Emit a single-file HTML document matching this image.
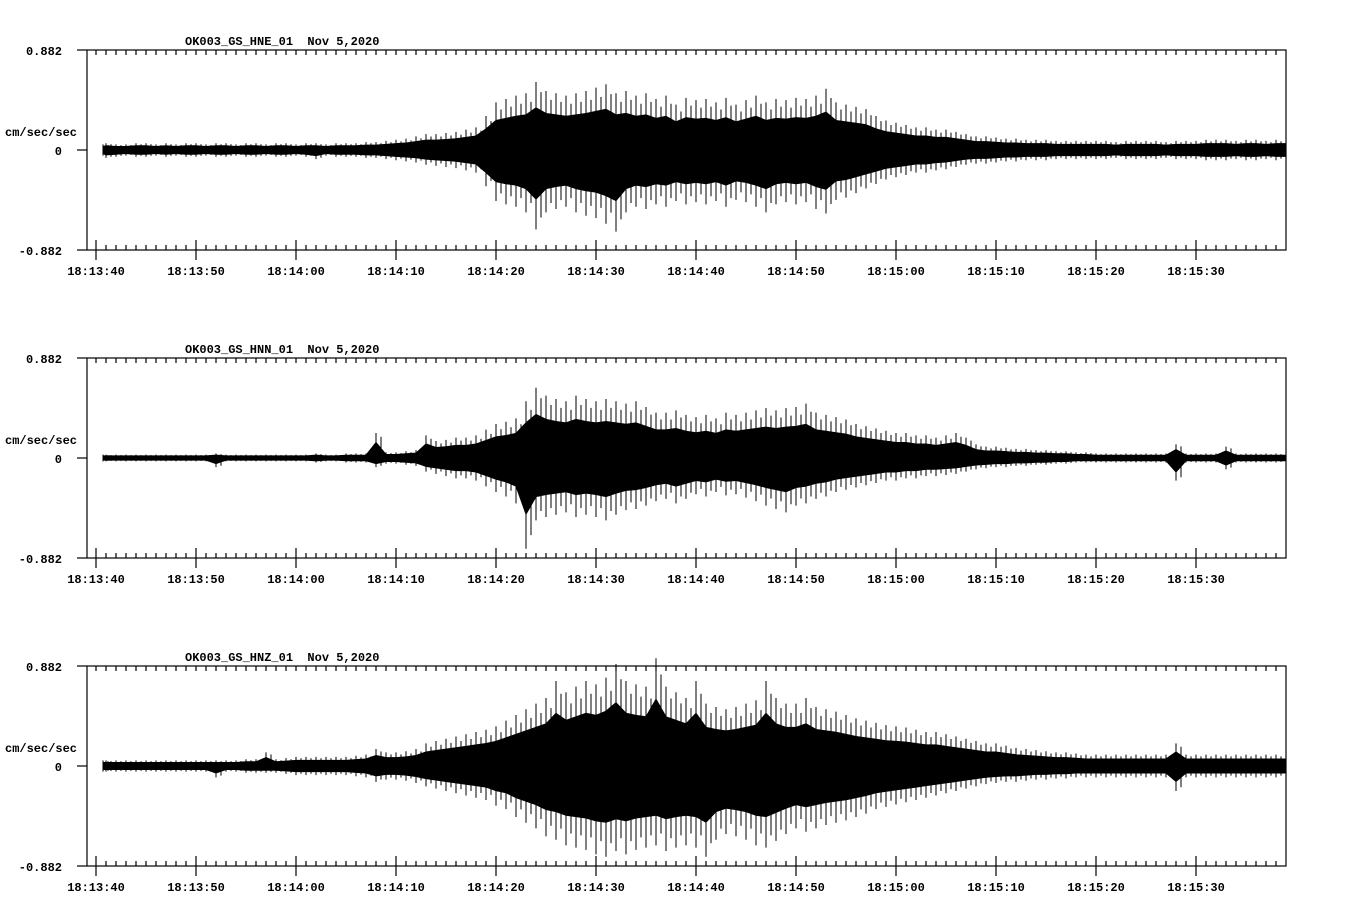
<!DOCTYPE html>
<html><head><meta charset="utf-8"><style>
html,body{margin:0;padding:0;background:#fff}
svg{display:block}
text{font-family:"Liberation Mono",monospace;font-weight:bold;font-size:12px;fill:#000;white-space:pre}
</style></head><body>
<svg id="chart" width="1358" height="924" viewBox="0 0 1358 924" xmlns="http://www.w3.org/2000/svg"></svg>
<script>
// time in seconds after 18:13:40, one value per second (t = 0..119); peak amplitude in cm/sec/sec
const timeLabels = ["18:13:40","18:13:50","18:14:00","18:14:10","18:14:20","18:14:30","18:14:40","18:14:50","18:15:00","18:15:10","18:15:20","18:15:30"];
const yMax = 0.882;
const titles = ["OK003_GS_HNE_01  Nov 5,2020","OK003_GS_HNN_01  Nov 5,2020","OK003_GS_HNZ_01  Nov 5,2020"];
const hneUp = [.05,.06,.05,.05,.06,.06,.05,.06,.05,.06, .06,.05,.06,.06,.05,.06,.06,.05,.06,.06, .05,.06,.06,.05,.06,.06,.06,.07,.07,.08, .09,.10,.12,.14,.14,.15,.16,.18,.20,.30, .42,.45,.48,.50,.60,.52,.50,.48,.50,.52, .55,.58,.50,.52,.48,.50,.45,.48,.40,.46, .44,.45,.42,.46,.40,.44,.48,.42,.45,.44, .46,.45,.48,.54,.42,.40,.38,.36,.30,.26, .24,.22,.20,.20,.18,.18,.16,.14,.12,.12, .11,.10,.10,.09,.09,.09,.08,.08,.08,.08, .08,.08,.07,.08,.08,.08,.08,.07,.08,.08, .08,.09,.09,.09,.08,.09,.09,.08,.09,.09];
const hneDown = [.05,.07,.06,.05,.06,.06,.05,.06,.05,.06, .06,.05,.06,.06,.05,.06,.06,.05,.06,.06, .05,.06,.08,.05,.06,.06,.06,.07,.07,.08, .09,.10,.11,.13,.14,.15,.16,.18,.20,.32, .45,.48,.50,.55,.70,.55,.52,.50,.55,.58, .60,.65,.72,.55,.50,.52,.48,.50,.45,.48, .46,.48,.45,.50,.44,.46,.50,.55,.48,.46, .48,.46,.52,.56,.44,.42,.38,.34,.30,.26, .24,.22,.20,.20,.18,.17,.15,.13,.12,.12, .11,.10,.10,.09,.09,.09,.08,.08,.08,.08, .08,.08,.07,.08,.08,.08,.08,.07,.08,.08, .08,.09,.09,.09,.08,.09,.09,.08,.09,.09];
const hnnUp = [.03,.03,.03,.03,.03,.03,.03,.03,.03,.03, .03,.03,.04,.03,.03,.03,.03,.03,.03,.03, .03,.03,.04,.03,.03,.04,.04,.04,.22,.05, .05,.06,.07,.20,.15,.16,.18,.18,.20,.25, .30,.32,.35,.50,.62,.55,.52,.50,.55,.52, .50,.52,.50,.48,.50,.45,.40,.40,.42,.38, .36,.38,.35,.40,.38,.40,.42,.44,.42,.44, .45,.48,.40,.38,.36,.34,.30,.28,.26,.24, .22,.22,.20,.20,.18,.20,.22,.18,.12,.10, .10,.09,.08,.08,.07,.07,.06,.06,.05,.05, .04,.04,.04,.04,.04,.04,.04,.04,.12,.04, .04,.04,.04,.10,.04,.04,.04,.04,.04,.04];
const hnnDown = [.03,.03,.03,.03,.03,.03,.03,.03,.03,.03, .03,.03,.08,.03,.03,.03,.03,.03,.03,.03, .03,.03,.04,.03,.03,.04,.04,.04,.08,.05, .05,.06,.07,.12,.14,.16,.18,.18,.20,.25, .30,.34,.40,.80,.55,.52,.50,.48,.52,.50, .52,.55,.50,.46,.45,.42,.38,.36,.40,.36, .32,.34,.30,.33,.32,.35,.38,.42,.45,.48, .42,.40,.36,.34,.30,.28,.26,.24,.22,.20, .20,.18,.18,.16,.16,.15,.14,.12,.10,.09, .08,.08,.07,.07,.06,.06,.05,.05,.04,.04, .04,.04,.04,.04,.04,.04,.04,.04,.20,.04, .04,.04,.04,.10,.04,.04,.04,.04,.04,.04];
const hnzUp = [.05,.05,.05,.05,.05,.05,.05,.05,.05,.05, .05,.05,.05,.05,.05,.06,.06,.12,.06,.07, .08,.08,.08,.08,.08,.08,.09,.10,.15,.12, .12,.13,.15,.20,.22,.24,.26,.28,.30,.32, .35,.40,.45,.50,.55,.60,.75,.65,.70,.75, .72,.78,.90,.75,.72,.70,.95,.70,.65,.60, .75,.55,.52,.50,.52,.55,.58,.75,.60,.55, .55,.60,.52,.50,.48,.45,.42,.40,.38,.36, .35,.34,.32,.30,.30,.28,.26,.24,.22,.20, .20,.18,.16,.15,.14,.13,.12,.12,.11,.10, .10,.10,.10,.10,.10,.10,.10,.10,.20,.10, .10,.10,.10,.10,.10,.10,.10,.10,.10,.10];
const hnzDown = [.05,.05,.05,.05,.05,.05,.05,.05,.05,.05, .05,.05,.10,.05,.05,.06,.06,.06,.06,.07, .08,.08,.08,.08,.08,.08,.09,.10,.14,.12, .12,.13,.15,.18,.20,.22,.24,.26,.28,.30, .35,.38,.45,.50,.55,.62,.65,.70,.72,.74, .78,.80,.75,.78,.74,.72,.70,.75,.72,.70, .72,.80,.65,.60,.62,.65,.70,.72,.66,.60, .55,.58,.55,.52,.50,.48,.45,.42,.38,.36, .34,.32,.30,.28,.26,.24,.22,.20,.18,.16, .15,.14,.14,.13,.12,.12,.11,.11,.10,.10, .10,.10,.10,.10,.10,.10,.10,.10,.22,.10, .10,.10,.10,.10,.10,.10,.10,.10,.10,.10];
const traces = [[hneUp,hneDown],[hnnUp,hnnDown],[hnzUp,hnzDown]];

const NS = "http://www.w3.org/2000/svg";
const svg = document.getElementById("chart");
const x0 = 96, pxPerSec = 10, left = 87, right = 1286, half = 100, coreFrac = 0.62;
function xs(t){ return x0 + t*pxPerSec; }
function mk(tag, attrs, parent){ const e=document.createElementNS(NS,tag); for(const k in attrs) e.setAttribute(k,attrs[k]); (parent||svg).appendChild(e); return e; }

traces.forEach((tr, i) => {
  const top = 50 + i*308, zero = top + half, bot = top + 2*half;
  const ys = v => zero - v/yMax*half;
  const g = mk("g", {});
  
  
  const frame = mk("rect", {x:left, y:top, width:right-left, height:2*half, fill:"none", stroke:"#000", "stroke-width":1.2}, g);
  
  
  [[yMax,"0.882"],[0,"0"],[-yMax,"-0.882"]].forEach(([v,l]) => {
    mk("line", {x1:77, x2:left, y1:ys(v), y2:ys(v), stroke:"#000", "stroke-width":1.2}, g);
    const t = mk("text", {x:62, y:ys(v)+5, "text-anchor":"end"}, g);
    t.textContent = l;
    
    
  });
  const yt = mk("text", {x:5, y:top+86}, g);
  yt.textContent = "cm/sec/sec";
  
  
  const tt = mk("text", {x:185, y:top-5}, g);
  tt.textContent = titles[i];
  
  
  let d = "";
  for (let s = 0; xs(s) < right; s++) {
    const x = xs(s);
    d += `M${x} ${top}V${top+5}M${x} ${bot}V${bot-5}`;
    if (s % 10 === 0) d += `M${x} ${bot-10}V${bot+10}`;
  }
  mk("path", {d, stroke:"#000", "stroke-width":1.2, fill:"none"}, g);
  timeLabels.forEach((l, k) => {
    const t = mk("text", {x:xs(k*10), y:bot+25, "text-anchor":"middle"}, g);
    t.textContent = l;
    
    
  });
  const [up, dn] = tr;
  // dense core
  let pts = [[xs(0.7), ys(up[0]*coreFrac)]];
  up.forEach((v, s) => { if (s > 0) pts.push([xs(s), ys(v*coreFrac)]); });
  pts.push([right, ys(up[up.length-1]*coreFrac)]);
  pts.push([right, ys(-dn[dn.length-1]*coreFrac)]);
  for (let s = dn.length-1; s > 0; s--) pts.push([xs(s), ys(-dn[s]*coreFrac)]);
  pts.push([xs(0.7), ys(-dn[0]*coreFrac)]);
  const wf = mk("polygon", {points: pts.map(p=>p.join(",")).join(" "), fill:"#000", stroke:"#000", "stroke-width":1}, g);
  
  
  // peak spikes
  let sp = "";
  up.forEach((v, s) => {
    const x = s === 0 ? xs(0.7) : xs(s);
    sp += `M${x} ${ys(v)}V${ys(-dn[s])}`;
    const xh = x + 5;
    if (xh < right) sp += `M${xh} ${ys(v*0.85)}V${ys(-dn[s]*0.85)}`;
  });
  const spk = mk("path", {d:sp, stroke:"#000", "stroke-width":1, fill:"none"}, g);
  
  
});
</script>
</body></html>
